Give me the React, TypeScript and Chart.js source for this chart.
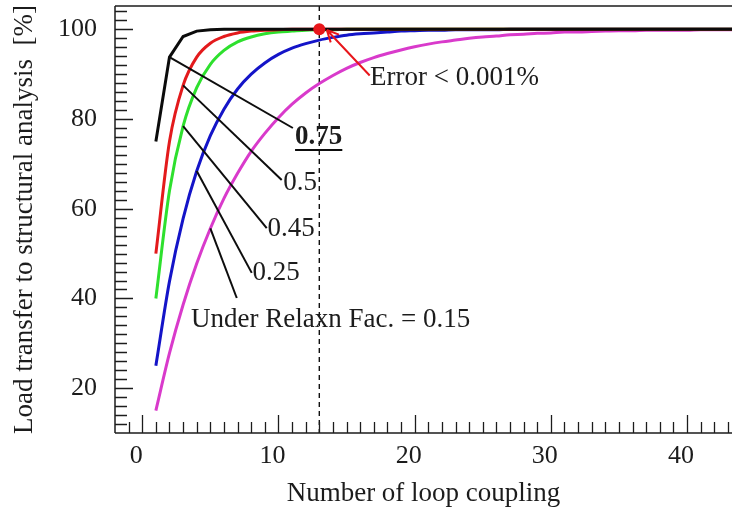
import React, { useEffect, useRef } from "react";
import { Chart, registerables } from "chart.js";

Chart.register(...registerables);

// Number of loop couplings
const loops = [
  1, 2, 3, 4, 5, 6, 7, 8, 9, 10, 11, 12, 13, 14, 15, 16, 17, 18, 19, 20, 21, 22,
  23, 24, 25, 26, 27, 28, 29, 30, 31, 32, 33, 34, 35, 36, 37, 38, 39, 40, 41, 42,
  43, 44,
];

// Load transferred to the structural analysis [%], one list per under-relaxation factor
const transfer075 = [
  75, 93.8, 98.4, 99.6, 99.9, 100, 100, 100, 100, 100, 100, 100, 100, 100, 100,
  100, 100, 100, 100, 100, 100, 100, 100, 100, 100, 100, 100, 100, 100, 100, 100,
  100, 100, 100, 100, 100, 100, 100, 100, 100, 100, 100, 100, 100,
];
const transfer050 = [
  50, 75, 87.5, 93.8, 96.9, 98.4, 99.2, 99.6, 99.8, 99.9, 100, 100, 100, 100,
  100, 100, 100, 100, 100, 100, 100, 100, 100, 100, 100, 100, 100, 100, 100, 100,
  100, 100, 100, 100, 100, 100, 100, 100, 100, 100, 100, 100, 100, 100,
];
const transfer045 = [
  40, 64, 78.4, 87.0, 92.2, 95.3, 97.2, 98.3, 99.0, 99.4, 99.6, 99.8, 99.9,
  99.9, 100, 100, 100, 100, 100, 100, 100, 100, 100, 100, 100, 100, 100, 100,
  100, 100, 100, 100, 100, 100, 100, 100, 100, 100, 100, 100, 100, 100, 100, 100,
];
const transfer025 = [
  25, 43.8, 57.8, 68.4, 76.3, 82.2, 86.7, 90.0, 92.5, 94.4, 95.8, 96.8, 97.6,
  98.2, 98.7, 99.0, 99.2, 99.4, 99.6, 99.7, 99.8, 99.8, 99.9, 99.9, 99.9, 99.9,
  100, 100, 100, 100, 100, 100, 100, 100, 100, 100, 100, 100, 100, 100, 100, 100,
  100, 100,
];
const transfer015 = [
  15, 27.8, 38.6, 47.8, 55.6, 62.3, 67.9, 72.8, 76.8, 80.3, 83.3, 85.8, 87.9,
  89.7, 91.3, 92.6, 93.7, 94.6, 95.4, 96.1, 96.7, 97.2, 97.6, 98.0, 98.3, 98.5,
  98.8, 98.9, 99.1, 99.2, 99.4, 99.4, 99.5, 99.6, 99.7, 99.7, 99.8, 99.8, 99.8,
  99.8, 99.9, 99.9, 99.9, 99.9,
];

const factorLabels = ["0.75", "0.5", "0.45", "0.25", "0.15"];
const xTickValues = [0, 10, 20, 30, 40];
const yTickValues = [20, 40, 60, 80, 100];

// Converged point: error below 0.001 %
const convergedLoop = 13;
const convergedValue = 100;
const convergedText = "Error < 0.001%";

const seriesValues = [transfer075, transfer050, transfer045, transfer025, transfer015];
const seriesColors = ["#0b0b0b", "#e31a1c", "#2ee02e", "#1414c8", "#d93acb"];
const seriesCurved = [false, true, true, true, true];

const FONT = '"Liberation Serif", "Times New Roman", serif';
const INK = "#1c1c1c";

// Callout lines from a curve point to its factor label (positions in data units)
const callouts = [
  { series: 0, point: 1, end: [11.06, 78.0], label: [11.22, 76.0], text: "0.75", bold: true },
  { series: 1, point: 2, end: [10.24, 66.4], label: [10.36, 65.7], text: "0.5", bold: false },
  { series: 2, point: 2, end: [9.14, 55.7], label: [9.2, 55.6], text: "0.45", bold: false },
  { series: 3, point: 3, end: [8.04, 45.7], label: [8.1, 45.8], text: "0.25", bold: false },
  { series: 4, point: 4, end: [6.94, 40.1], label: [3.58, 35.2], text: "Under Relaxn Fac. = 0.15", bold: false },
];
const convergedNote = { label: [16.73, 89.1], arrowFrom: [16.7, 89.7], arrowTo: [13.55, 99.85] };

const annotate = {
  id: "annotate",
  beforeDatasetsDraw(chart: any) {
    const { ctx, chartArea, scales } = chart;
    const x = scales.x;
    ctx.save();
    ctx.strokeStyle = "#111";
    ctx.lineWidth = 1.4;
    ctx.setLineDash([5, 4]);
    const px = x.getPixelForValue(convergedLoop);
    ctx.beginPath();
    ctx.moveTo(px, chartArea.top);
    ctx.lineTo(px, chartArea.bottom);
    ctx.stroke();
    ctx.restore();
  },
  afterDatasetsDraw(chart: any) {
    const { ctx, chartArea, scales } = chart;
    const x = scales.x;
    const y = scales.y;
    const { left, right, top, bottom } = chartArea;
    ctx.save();

    // frame: top, left and bottom lines
    ctx.strokeStyle = INK;
    ctx.lineWidth = 1.5;
    ctx.beginPath();
    ctx.moveTo(left, top);
    ctx.lineTo(right, top);
    ctx.moveTo(left, top);
    ctx.lineTo(left, bottom);
    ctx.moveTo(left, bottom);
    ctx.lineTo(right, bottom);
    ctx.stroke();

    // inward tick marks
    ctx.lineWidth = 1.3;
    ctx.beginPath();
    for (let v = Math.ceil(x.min); v <= x.max; v += 1) {
      const p = Math.round(x.getPixelForValue(v)) + 0.5;
      if (p <= left + 1) continue;
      const len = v % 10 === 0 ? 18 : 11;
      ctx.moveTo(p, bottom);
      ctx.lineTo(p, bottom - len);
    }
    for (let v = Math.ceil(y.min / 2) * 2; v <= y.max; v += 2) {
      const p = Math.round(y.getPixelForValue(v)) + 0.5;
      if (p >= bottom - 1) continue;
      const len = v % 20 === 0 ? 18 : 12;
      ctx.moveTo(left, p);
      ctx.lineTo(left + len, p);
    }
    ctx.stroke();

    // callouts
    ctx.strokeStyle = "#0d0d0d";
    ctx.lineWidth = 2;
    ctx.fillStyle = INK;
    ctx.textBaseline = "middle";
    ctx.textAlign = "left";
    for (const c of callouts) {
      const meta = chart.getDatasetMeta(c.series);
      const pt = meta.data[c.point];
      ctx.beginPath();
      ctx.moveTo(pt.x, pt.y);
      ctx.lineTo(x.getPixelForValue(c.end[0]), y.getPixelForValue(c.end[1]));
      ctx.stroke();
      ctx.font = `${c.bold ? "bold " : ""}27px ${FONT}`;
      const lx = x.getPixelForValue(c.label[0]);
      const ly = y.getPixelForValue(c.label[1]);
      ctx.fillText(c.text, lx, ly);
      if (c.bold) {
        const w = ctx.measureText(c.text).width;
        ctx.beginPath();
        ctx.moveTo(lx, ly + 13);
        ctx.lineTo(lx + w, ly + 13);
        ctx.stroke();
      }
    }

    // converged marker with arrow and note
    const red = "#e8161b";
    const fx = x.getPixelForValue(convergedNote.arrowFrom[0]);
    const fy = y.getPixelForValue(convergedNote.arrowFrom[1]);
    const tx = x.getPixelForValue(convergedNote.arrowTo[0]);
    const ty = y.getPixelForValue(convergedNote.arrowTo[1]);
    ctx.strokeStyle = red;
    ctx.lineWidth = 2;
    ctx.beginPath();
    ctx.moveTo(fx, fy);
    ctx.lineTo(tx, ty);
    const ang = Math.atan2(ty - fy, tx - fx);
    const head = 13;
    for (const s of [-0.45, 0.45]) {
      ctx.moveTo(tx, ty);
      ctx.lineTo(tx - head * Math.cos(ang + s), ty - head * Math.sin(ang + s));
    }
    ctx.stroke();

    ctx.fillStyle = red;
    ctx.beginPath();
    ctx.arc(x.getPixelForValue(convergedLoop), y.getPixelForValue(convergedValue), 6, 0, Math.PI * 2);
    ctx.fill();

    ctx.fillStyle = INK;
    ctx.font = `27px ${FONT}`;
    ctx.fillText(
      convergedText,
      x.getPixelForValue(convergedNote.label[0]),
      y.getPixelForValue(convergedNote.label[1])
    );

    ctx.restore();
  },
};

export default function App() {
  const canvasRef = useRef<HTMLCanvasElement | null>(null);

  useEffect(() => {
    if (!canvasRef.current) return;
    const chart = new Chart(canvasRef.current, {
      type: "line",
      data: {
        datasets: seriesValues.map((vals, i) => ({
          label: factorLabels[i],
          data: loops.map((n, j) => ({ x: n, y: vals[j] })),
          borderColor: seriesColors[i],
          backgroundColor: seriesColors[i],
          borderWidth: 3,
          pointRadius: 0,
          fill: false,
          tension: 0,
          cubicInterpolationMode: seriesCurved[i] ? "monotone" : "default",
        })),
      },
      options: {
        animation: false,
        responsive: true,
        maintainAspectRatio: false,
        layout: { padding: { top: 6, right: 0, left: 0, bottom: 0 }, autoPadding: false },
        plugins: {
          legend: { display: false },
          tooltip: { enabled: false },
        },
        scales: {
          x: {
            type: "linear",
            min: -2,
            max: 43.3,
            grid: { display: false, drawTicks: false },
            border: { display: false },
            afterBuildTicks: (scale: any) => {
              scale.ticks = xTickValues.map((v) => ({ value: v }));
            },
            afterFit: (scale: any) => {
              scale.height = 89;
              scale.paddingLeft = 0;
              scale.paddingRight = 0;
            },
            ticks: {
              color: INK,
              font: { family: FONT, size: 26 },
              padding: 8,
              labelOffset: -6,
              maxRotation: 0,
            },
            title: {
              display: true,
              text: "Number of loop coupling",
              color: INK,
              font: { family: FONT, size: 27 },
              padding: { top: 0, bottom: 12 },
            },
          },
          y: {
            type: "linear",
            min: 10,
            max: 105.2,
            grid: { display: false, drawTicks: false },
            border: { display: false },
            afterBuildTicks: (scale: any) => {
              scale.ticks = yTickValues.map((v) => ({ value: v }));
            },
            afterFit: (scale: any) => {
              scale.width = 115;
              scale.paddingTop = 0;
              scale.paddingBottom = 0;
            },
            ticks: {
              color: INK,
              font: { family: FONT, size: 26 },
              padding: 18,
            },
            title: {
              display: true,
              text: "Load transfer to structural analysis  [%]",
              color: INK,
              font: { family: FONT, size: 27 },
              padding: { top: 9, bottom: 0 },
            },
          },
        },
      },
      plugins: [annotate],
    });
    return () => chart.destroy();
  }, []);

  return (
    <div
      style={{
        position: "fixed",
        left: 0,
        top: 0,
        width: 732,
        height: 522,
        background: "#ffffff",
      }}
    >
      <canvas ref={canvasRef} style={{ display: "block" }} />
    </div>
  );
}
